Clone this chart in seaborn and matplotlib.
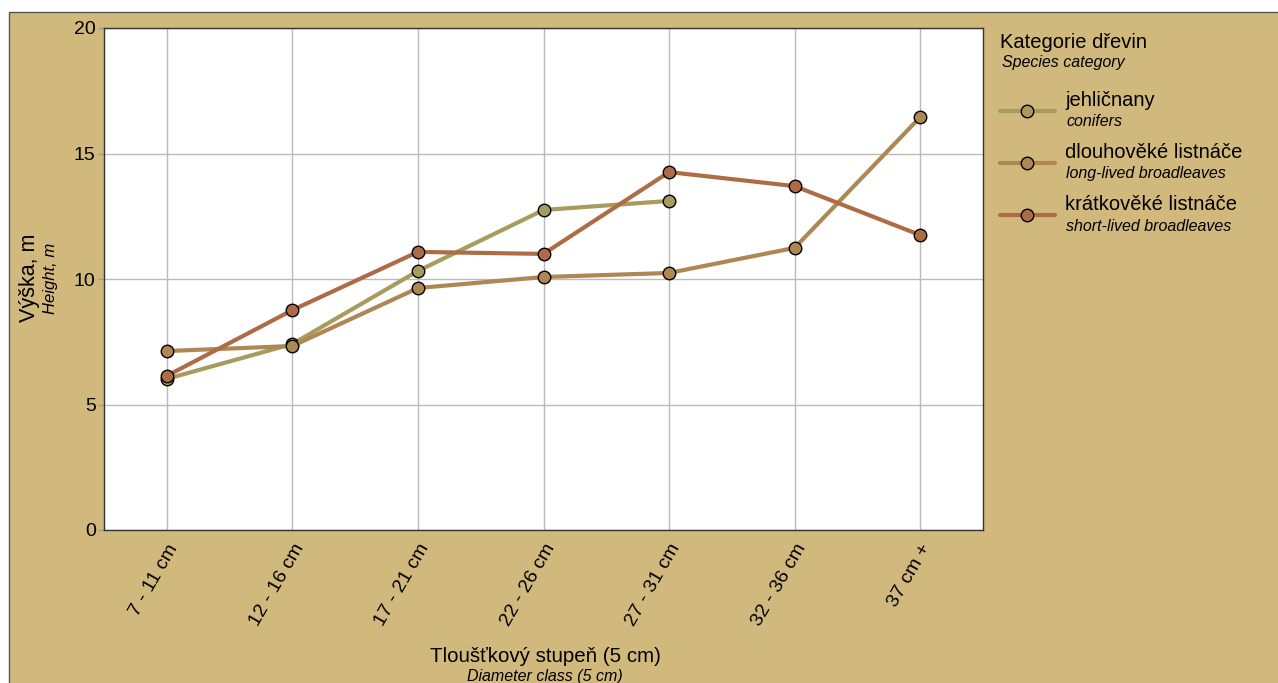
import pandas as pd
import matplotlib
matplotlib.use('Agg')
import matplotlib.pyplot as plt
from matplotlib.patches import Rectangle
from matplotlib.lines import Line2D
import seaborn as sns

# diameter classes and mean heights
classes = ['7 - 11 cm', '12 - 16 cm', '17 - 21 cm', '22 - 26 cm', '27 - 31 cm', '32 - 36 cm', '37 cm +']
conifers = [6.02, 7.41, 10.32, 12.75, 13.11]
long_lived = [7.13, 7.33, 9.64, 10.08, 10.24, 11.24, 16.45]
short_lived = [6.14, 8.76, 11.08, 11.0, 14.26, 13.7, 11.75]

series_cz = ['jehličnany', 'dlouhověké listnáče', 'krátkověké listnáče']
series_en = ['conifers', 'long-lived broadleaves', 'short-lived broadleaves']
colors = ['#A89B5E', '#AE8753', '#AE6C46']

rows = []
for name, vals in zip(series_cz, [conifers, long_lived, short_lived]):
    for c, v in zip(classes, vals):
        rows.append({'trida': c, 'vyska': v, 'kategorie': name})
df = pd.DataFrame(rows)
df['x'] = df['trida'].map({c: i for i, c in enumerate(classes)})

sns.set_style('white')
plt.rcParams['font.family'] = ['Liberation Sans', 'DejaVu Sans']
plt.rcParams['text.color'] = 'black'

bg = '#D1B97D'
fig = plt.figure(figsize=(12.78, 6.83), dpi=100)
fig.patch.set_facecolor('white')
fig.add_artist(Rectangle((9 / 1278, -0.01), 1.0, 1 - 12 / 683 + 0.01, transform=fig.transFigure,
                         facecolor=bg, edgecolor='#555555', linewidth=1, zorder=-10))

ax = fig.add_axes([104 / 1278, 1 - 530 / 683, (983 - 104) / 1278, (530 - 28) / 683])
ax.set_facecolor('white')

sns.lineplot(data=df, x='x', y='vyska', hue='kategorie', hue_order=series_cz,
             palette=colors, linewidth=3, marker='o', markersize=9,
             markeredgecolor='black', markeredgewidth=1, legend=False, ax=ax, zorder=3)

ax.set_xlim(-0.5, 6.5)
ax.set_ylim(0, 20)
ax.set_xticks(range(len(classes)))
ax.set_xticklabels(classes, rotation=60, ha='right', rotation_mode='anchor', fontsize=14)
ax.set_yticks([0, 5, 10, 15, 20])
ax.set_yticklabels(['0', '5', '10', '15', '20'], fontsize=14)
ax.tick_params(axis='x', length=0, pad=8, labelcolor='black')
ax.tick_params(axis='y', length=4, color='#999999', width=1, pad=2, left=True, labelcolor='black')
ax.grid(True, color='#BBBBBB', linewidth=1)
ax.set_axisbelow(True)
for s in ax.spines.values():
    s.set_color('#333333')
    s.set_linewidth(1)
ax.set_xlabel('')
ax.set_ylabel('')

# axis titles
fig.text(29 / 1278, 1 - 278 / 683, 'Výška, m', rotation=90, ha='center', va='center', fontsize=15.5)
fig.text(51 / 1278, 1 - 278 / 683, 'Height, m', rotation=90, ha='center', va='center',
         fontsize=12, style='italic')
fig.text(545 / 1278, 1 - 657 / 683, 'Tloušťkový stupeň (5 cm)', ha='center', va='center', fontsize=14.8)
fig.text(545 / 1278, 1 - 676 / 683, 'Diameter class (5 cm)', ha='center', va='center',
         fontsize=11.5, style='italic')

# legend
fig.text(1000 / 1278, 1 - 42 / 683, 'Kategorie dřevin', ha='left', va='center', fontsize=14.5)
fig.text(1002 / 1278, 1 - 63 / 683, 'Species category', ha='left', va='center',
         fontsize=11.5, style='italic')
for i, (cz, en, col) in enumerate(zip(series_cz, series_en, colors)):
    y = 111 + i * 52
    fig.add_artist(Line2D([1000 / 1278, 1055 / 1278], [1 - y / 683, 1 - y / 683],
                          transform=fig.transFigure, color=col, linewidth=3))
    fig.add_artist(Line2D([1027 / 1278], [1 - y / 683], transform=fig.transFigure,
                          marker='o', markersize=9, markerfacecolor=col,
                          markeredgecolor='black', markeredgewidth=1, linestyle='none'))
    fig.text(1065 / 1278, 1 - (y - 11) / 683, cz, ha='left', va='center', fontsize=14.5)
    fig.text(1066 / 1278, 1 - (y + 11) / 683, en, ha='left', va='center',
             fontsize=11.5, style='italic')

fig.savefig('out.png', dpi=100, facecolor=fig.get_facecolor())
